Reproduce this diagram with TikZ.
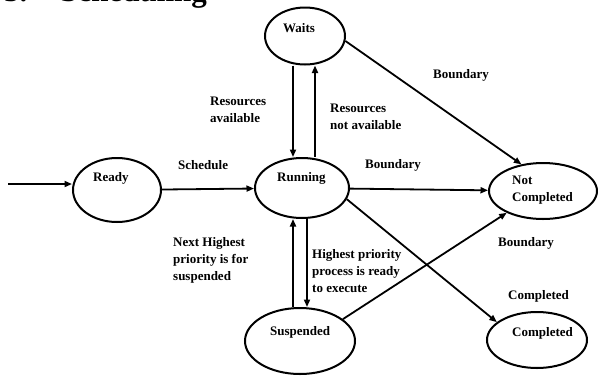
\documentclass[tikz,border=0pt]{standalone}
\usepackage{fontspec}
\setmainfont{Liberation Serif}
\usetikzlibrary{arrows.meta,shapes.geometric}
\begin{document}
\begin{tikzpicture}[x=1pt,y=-1pt,
  state/.style={draw, ellipse, line width=2pt, inner sep=0pt},
  lbl/.style={font=\fontsize{13}{17}\selectfont\bfseries, inner sep=0pt, align=left},
  arr/.style={line width=1.8pt, -{Triangle[length=7.5pt,width=6pt]}}]
\useasboundingbox (0,0) rectangle (598,376);
\clip (0,0) rectangle (598,376);

% section heading, cut off at the top edge
\node[anchor=base west, inner sep=0pt, font=\fontsize{31}{36}\selectfont\bfseries] (title) at (4,1.5) {5.\hspace{33pt}Scheduling};

% process states
\node[state, minimum width=80pt, minimum height=57pt] (waits) at (305,36) {};
\node[state, minimum width=88pt, minimum height=64pt] (ready) at (117,190) {};
\node[state, minimum width=94pt, minimum height=60pt] (running) at (302,188) {};
\node[state, minimum width=108pt, minimum height=56pt] (notc) at (543,191) {};
\node[state, minimum width=110pt, minimum height=66pt] (suspended) at (300,341) {};
\node[state, minimum width=100pt, minimum height=56pt] (completed) at (537,340) {};

% state names, set in the upper part of each ellipse
\node[lbl, anchor=west] (waitst) at (283,28) {Waits};
\node[lbl, anchor=west] (readyt) at (93,178) {Ready};
\node[lbl, anchor=west] (runningt) at (277,178) {Running};
\node[lbl, anchor=north west] (notct) at (512,176) {Not\\Completed};
\node[lbl, anchor=west] (suspendedt) at (270,332) {Suspended};
\node[lbl, anchor=west] (completedt) at (512,333) {Completed};

% transitions
\coordinate (start) at (8,184);
\draw[arr] (start) -- (start -| ready.west);
\draw[arr] (ready) -- (running);
\draw[arr] ([xshift=-9pt]running.north |- waits.south) -- ([xshift=-9pt]running.north);
\draw[arr] ([xshift=13pt]running.north) -- ([xshift=13pt]running.north |- waits.south);
\draw[arr] (waits.-7) -- (notc.129);
\draw[arr] (running) -- (notc);
\draw[arr] (running.-14) -- (completed.156);
\draw[arr] (suspended.27) -- (notc.211);
\draw[arr] ([xshift=-9pt]running.south |- suspended.north) -- ([xshift=-9pt]running.south);
\draw[arr] ([xshift=5pt]running.south) -- ([xshift=5pt]running.south |- suspended.north);

% transition labels
\node[lbl, anchor=west] (schedl) at (178,165) {Schedule};
\node[lbl, anchor=west] (bnd1) at (433,75) {Boundary};
\node[lbl, anchor=west] (bnd2) at (365,165) {Boundary};
\node[lbl, anchor=west] (bnd3) at (498,243) {Boundary};
\node[lbl, anchor=west] (compl) at (508,296) {Completed};
\node[lbl, anchor=north west] (resav) at (210,97) {Resources\\available};
\node[lbl, anchor=north west] (resnot) at (330,104) {Resources\\not available};
\node[lbl, anchor=north west] (nexth) at (173,237) {Next Highest\\priority is for\\suspended};
\node[lbl, anchor=north west] (highp) at (312,249) {Highest priority\\process is ready\\to execute};
\end{tikzpicture}
\end{document}
